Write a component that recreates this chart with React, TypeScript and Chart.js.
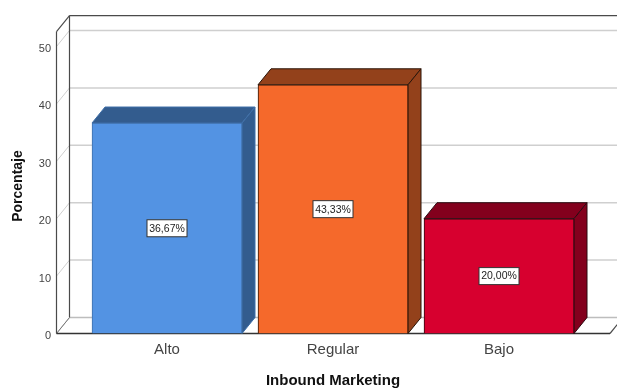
import React, { useEffect, useRef } from "react";
import { Chart, registerables } from "chart.js";

Chart.register(...registerables);

const categories = ["Alto", "Regular", "Bajo"];
const percentages = [36.67, 43.33, 20.0];
const frontColors = ["#5393E3", "#F5692B", "#D7002F"];
const shadeColors = ["#335C8E", "#93411B", "#83001D"];
const edgeColors = ["#3F6FA8", "#2A1408", "#2A0A10"];
const axisMax = 52.6;
const depthX = 13;
const depthY = -16;
const wallLeft = 56.5;
const wallRight = 610;
const tickLabelDrop = 2.5;
const fontFamily = "'Liberation Sans', Arial, sans-serif";

const line = (c: CanvasRenderingContext2D, x1: number, y1: number, x2: number, y2: number, color: string, width: number) => {
  c.strokeStyle = color;
  c.lineWidth = width;
  c.beginPath();
  c.moveTo(x1, y1);
  c.lineTo(x2, y2);
  c.stroke();
};

const face = (c: CanvasRenderingContext2D, pts: number[][], fill: string, stroke: string) => {
  c.fillStyle = fill;
  c.strokeStyle = stroke;
  c.lineWidth = 1;
  c.beginPath();
  pts.forEach(([x, y], i) => (i ? c.lineTo(x, y) : c.moveTo(x, y)));
  c.closePath();
  c.fill();
  c.stroke();
};

// Box frame: back wall, left wall, floor and the wrapped gridlines.
const framePlugin = {
  id: "frame3d",
  beforeDraw(chart: any) {
    // Value labels sit on the front edge, slightly below their gridline.
    chart.scales.y.getLabelItems().forEach((item: any) => {
      if (!item.dropped) {
        item.options.translation = [item.options.translation[0], item.options.translation[1] + tickLabelDrop];
        item.dropped = true;
      }
    });
  },
  beforeDatasetsDraw(chart: any) {
    const c = chart.ctx;
    const y = chart.scales.y;
    const top = y.top;
    const bottom = y.bottom;
    const backLeft = wallLeft + depthX;
    c.save();
    y.ticks.forEach((t: any) => {
      const py = y.getPixelForValue(t.value);
      const grid = t.value === 0 ? "#BDBDBD" : "#CFCFCF";
      line(c, wallLeft, py, backLeft, py + depthY, grid, 1);
      line(c, backLeft, py + depthY, chart.width, py + depthY, grid, 1.5);
    });
    const dark = "#4A4A4A";
    line(c, wallLeft, bottom, wallLeft, top, dark, 1.2);
    line(c, backLeft, bottom + depthY, backLeft, top + depthY, dark, 1.2);
    line(c, wallLeft, top, backLeft, top + depthY, dark, 1.2);
    line(c, backLeft, top + depthY, chart.width, top + depthY, dark, 1.2);
    line(c, wallLeft, bottom, backLeft, bottom + depthY, "#777777", 1);
    line(c, wallRight, bottom, wallRight + depthX, bottom + depthY, dark, 1.2);
    line(c, wallLeft, bottom, wallRight, bottom, "#333333", 1.4);

    // Side and top faces of each bar sit behind the front rectangle.
    chart.getDatasetMeta(0).data.forEach((bar: any, i: number) => {
      const l = bar.x - bar.width / 2;
      const r = bar.x + bar.width / 2;
      const t = bar.y;
      const b = bar.base;
      face(c, [[l, t], [l + depthX, t + depthY], [r + depthX, t + depthY], [r, t]], shadeColors[i], edgeColors[i]);
      face(c, [[r, t], [r + depthX, t + depthY], [r + depthX, b + depthY], [r, b]], shadeColors[i], edgeColors[i]);
    });

    // Rotated axis caption, centred on the full box height.
    c.translate(18.5, 186);
    c.rotate(-Math.PI / 2);
    c.font = `bold 14px ${fontFamily}`;
    c.fillStyle = "#111111";
    c.textAlign = "center";
    c.textBaseline = "middle";
    c.fillText("Porcentaje", 0, 0);
    c.restore();
  },
  afterDatasetsDraw(chart: any) {
    const c = chart.ctx;
    c.save();
    c.font = `10.5px ${fontFamily}`;
    c.textAlign = "center";
    c.textBaseline = "middle";
    chart.getDatasetMeta(0).data.forEach((bar: any, i: number) => {
      const text = percentages[i].toFixed(2).replace(".", ",") + "%";
      const cy = (bar.y + bar.base) / 2;
      const w = 40;
      const h = 17;
      c.fillStyle = "#FFFFFF";
      c.strokeStyle = "#333333";
      c.lineWidth = 1;
      c.fillRect(bar.x - w / 2, cy - h / 2, w, h);
      c.strokeRect(bar.x - w / 2, cy - h / 2, w, h);
      c.fillStyle = "#222222";
      c.fillText(text, bar.x, cy + 0.5);
    });
    c.restore();
  },
};

export default function App() {
  const ref = useRef<HTMLCanvasElement>(null);
  useEffect(() => {
    const chart = new Chart(ref.current as HTMLCanvasElement, {
      type: "bar",
      data: {
        labels: categories,
        datasets: [
          {
            data: percentages,
            backgroundColor: frontColors,
            borderColor: edgeColors,
            borderWidth: 1,
            barThickness: 150,
          },
        ],
      },
      options: {
        responsive: false,
        animation: false,
        layout: { padding: { top: 19.5, right: 35, left: 0, bottom: 0 } },
        plugins: { legend: { display: false }, tooltip: { enabled: false } },
        scales: {
          x: {
            grid: { display: false },
            border: { display: false },
            ticks: { color: "#444444", padding: -1, font: { family: fontFamily, size: 15 } },
            title: {
              display: true,
              text: "Inbound Marketing",
              color: "#111111",
              font: { family: fontFamily, size: 15, weight: "bold" },
              padding: { top: 0, bottom: -2 },
            },
            afterFit(scale: any) {
              scale.height = 54.5;
            },
          },
          y: {
            min: 0,
            max: axisMax,
            grid: { display: false },
            border: { display: false },
            ticks: {
              stepSize: 10,
              includeBounds: false,
              color: "#444444",
              padding: 25,
              font: { family: fontFamily, size: 11 },
            },
            afterFit(scale: any) {
              scale.width = 84;
            },
          },
        },
      },
      plugins: [framePlugin],
    } as any);
    return () => chart.destroy();
  }, []);
  return (
    <div style={{ position: "fixed", left: 0, top: 0, width: 617, height: 388, background: "#FFFFFF" }}>
      <canvas ref={ref} width={617} height={388} style={{ display: "block" }} />
    </div>
  );
}
